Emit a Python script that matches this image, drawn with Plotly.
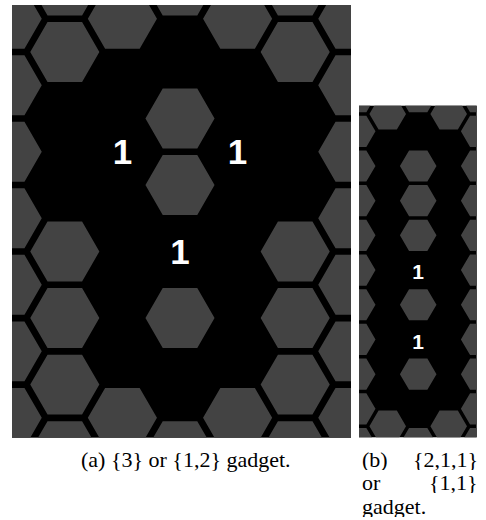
import math
import plotly.graph_objects as go

# ---------------- data ----------------
# One string per hex column (left -> right), cells listed top -> bottom.
# '#' = covered cell (grey), '.' = revealed empty cell (black), digit = revealed clue.
LEFT_COLUMNS = ["#######", "##..####", "#.1...#", "#.##1#.#", "#.1...#", "##..####", "#######"]
RIGHT_COLUMNS = ["###########", "#........#", "#.###1#1#.#", "#........#", "###########"]

CAPTION_A = "(a) {3} or {1,2} gadget."
CAPTION_B_LINES = [("(b)", "{2,1,1}"), ("or", "{1,1}"), ("gadget.", "")]

# ---------------- style / layout ----------------
W, H = 486, 520
GREY = "#434343"
INNER = 0.9  # grey hexagon radius relative to cell radius
SQ3 = math.sqrt(3)

# panel placement (pixels) and axis windows (cell-radius units)
PANELS = [
    dict(cols=LEFT_COLUMNS, px=(12, 351), py=(5, 437.7),
         xr=(-4.375, 4.453), yr=(-11.776, -0.508), fs=35, tdy=0.1),
    dict(cols=RIGHT_COLUMNS, px=(359, 476.7), py=(105.7, 437.3),
         xr=(-2.912, 2.877), yr=(-17.01, -0.454), fs=21, tdy=0.2),
]


def hex_cells(columns):
    n = len(columns)
    mid = n // 2
    out = []
    for i, col in enumerate(columns):
        c = i - mid
        shift = 0.5 if (c % 2) else 0.0
        for k, ch in enumerate(col):
            out.append((1.5 * c, -(k + shift) * SQ3, ch))
    return out


fig = go.Figure()
layout_axes = {}
for p_i, P in enumerate(PANELS):
    sfx = "" if p_i == 0 else str(p_i + 1)
    cells = hex_cells(P["cols"])
    hx, hy = [], []
    tx, ty, tt = [], [], []
    for cx, cy, ch in cells:
        if ch == "#":
            for a in range(7):
                ang = math.radians(60 * a)
                hx.append(cx + INNER * math.cos(ang))
                hy.append(cy + INNER * math.sin(ang))
            hx.append(None)
            hy.append(None)
        elif ch.isdigit():
            tx.append(cx)
            ty.append(cy - P["tdy"])
            tt.append(ch)
    fig.add_trace(go.Scatter(
        x=hx, y=hy, mode="lines", fill="toself", fillcolor=GREY,
        line=dict(width=0, color=GREY), hoverinfo="skip", showlegend=False,
        xaxis="x" + sfx, yaxis="y" + sfx))
    fig.add_trace(go.Scatter(
        x=tx, y=ty, mode="text", text=tt, textposition="middle center",
        textfont=dict(family="Liberation Sans", size=P["fs"], color="white", weight="bold"),
        hoverinfo="skip", showlegend=False, xaxis="x" + sfx, yaxis="y" + sfx))
    x0, x1 = P["px"]
    y0, y1 = P["py"]
    layout_axes["xaxis" + sfx] = dict(domain=[x0 / W, x1 / W], range=list(P["xr"]),
                                      visible=False, fixedrange=True,
                                      anchor="y" + sfx)
    layout_axes["yaxis" + sfx] = dict(domain=[1 - y1 / H, 1 - y0 / H], range=list(P["yr"]),
                                      visible=False, fixedrange=True,
                                      anchor="x" + sfx)

cap_font = dict(family="Liberation Serif", size=22, color="black")
annotations = [dict(text=CAPTION_A, x=185.5 / W, y=1 - 459 / H, xref="paper", yref="paper",
                    xanchor="center", yanchor="middle", showarrow=False, font=cap_font)]
for li, (left_t, right_t) in enumerate(CAPTION_B_LINES):
    yc = 1 - (459 + 23.3 * li) / H
    annotations.append(dict(text=left_t, x=360 / W, y=yc, xref="paper", yref="paper",
                            xanchor="left", yanchor="middle", showarrow=False, font=cap_font,
                            height=22))
    if right_t:
        annotations.append(dict(text=right_t, x=480 / W, y=yc, xref="paper", yref="paper",
                                xanchor="right", yanchor="middle", showarrow=False, font=cap_font,
                                height=22))

fig.update_layout(
    width=W, height=H, margin=dict(l=0, r=0, t=0, b=0),
    paper_bgcolor="white", plot_bgcolor="black",
    hovermode=False, annotations=annotations, **layout_axes)

fig.write_html("out.html", config={"displayModeBar": False},
               post_script="document.body.style.margin='0';document.body.style.overflow='hidden';")
